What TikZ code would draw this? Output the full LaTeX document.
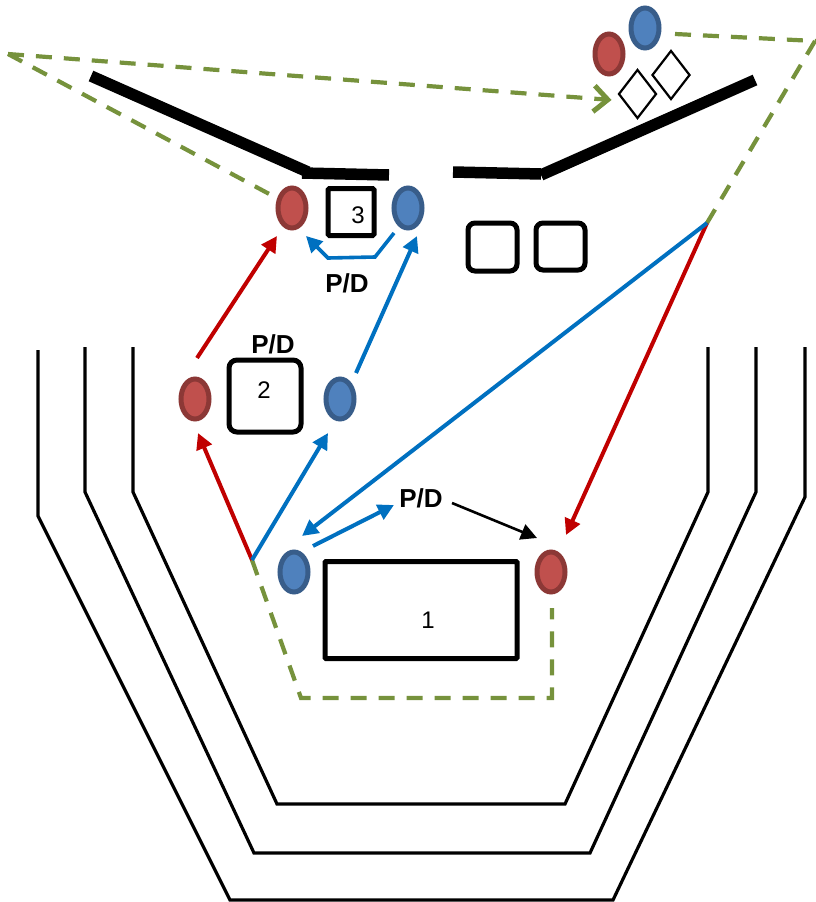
\documentclass[tikz,border=0pt]{standalone}
\usepackage{fontspec}
\setmainfont{Liberation Sans}
\usetikzlibrary{arrows.meta,shapes.geometric}
\definecolor{rl}{HTML}{C00000}
\definecolor{bl}{HTML}{0070C0}
\definecolor{gl}{HTML}{76923C}
\definecolor{redf}{HTML}{C0504D}
\definecolor{redd}{HTML}{8C3836}
\definecolor{bluef}{HTML}{4F81BD}
\definecolor{blued}{HTML}{385D8A}
\tikzset{
 redball/.style={ellipse,draw=redd,fill=redf,line width=5pt,minimum width=28pt,minimum height=40pt,inner sep=0pt},
 blueball/.style={ellipse,draw=blued,fill=bluef,line width=5pt,minimum width=28pt,minimum height=40pt,inner sep=0pt},
 boxs/.style={draw=black,line width=5pt,inner sep=0pt,rounded corners=#1},
 boxs/.default=2pt,
 gem/.style={diamond,draw=black,line width=2.2pt,minimum width=38pt,minimum height=49pt,inner sep=0pt,aspect=0.78},
 wall/.style={line width=3.2pt,draw=black,line join=miter},
 lid/.style={line width=11.5pt,draw=black},
 redarr/.style={draw=rl,line width=4pt,-{Triangle[length=16pt,width=16pt]}},
 bluearr/.style={draw=bl,line width=4pt,-{Triangle[length=16pt,width=16pt]}},
 blackarr/.style={draw=black,line width=2.6pt,-{Triangle[length=16pt,width=16pt]}},
 greendash/.style={draw=gl,line width=4.2pt,dash pattern=on 16pt off 12pt},
 pd/.style={font=\fontsize{26}{30}\selectfont\bfseries,inner sep=0pt},
 num/.style={font=\fontsize{24}{28}\selectfont,inner sep=0pt},
}
\begin{document}
\begin{tikzpicture}[x=1pt,y=-1pt]
\useasboundingbox (0,0) rectangle (815,902);
% funnel walls
\draw[wall] (38,350) -- (38,516) -- (230,900) -- (613,900) -- (805,497) -- (805,347);
\draw[wall] (85,347) -- (85,492) -- (254,853) -- (590,853) -- (756,492) -- (756,347);
\draw[wall] (133,347) -- (133,492) -- (277,804) -- (565,804) -- (708,492) -- (708,347);
% lid
\draw[lid] (91,76) -- (308,172);
\draw[lid] (302,173) -- (389,175);
\draw[lid] (453,172) -- (541,174);
\draw[lid] (541,175) -- (755,80);
% boxes
\node[boxs=1pt,minimum width=192pt,minimum height=97pt] (b1) at (421,610) {};
\node[boxs=8pt,minimum width=72pt,minimum height=72pt] (b2) at (265,396) {};
\node[boxs=1.5pt,minimum width=46pt,minimum height=47pt] (b3) at (351,212) {};
\node[boxs=7pt,minimum width=49pt,minimum height=48pt] (b4) at (492.5,247) {};
\node[boxs=7pt,minimum width=49pt,minimum height=47pt] (b5) at (560.5,246.5) {};
\node[num] (n1) at (428,620) {1};
\node[num] (n2) at (264,390) {2};
\node[num] (n3) at (358,215) {3};
% diamonds
\node[gem] (g1) at (637.5,94) {};
\node[gem] (g2) at (671,75) {};
% balls
\node[redball] (rt) at (609,54) {};
\node[blueball] (bt) at (645,28) {};
\node[redball] (r3) at (292,208) {};
\node[blueball] (b3b) at (408,208) {};
\node[redball] (r2) at (195,399) {};
\node[blueball] (b2b) at (340,399) {};
\node[blueball] (b1b) at (294,572) {};
\node[redball] (r1) at (551,572) {};
% labels
\node[pd] (pd3) at (347,283) {P/D};
\node[pd] (pd2) at (273,344) {P/D};
\node[pd] (pd1) at (421,498) {P/D};
% junction points
\coordinate (apexL) at (8,54);
\coordinate (apexR) at (815,41);
\coordinate (src) at (707,223);
\coordinate (low) at (252,560);
\coordinate (c1) at (301,698);
\coordinate (c2) at (552,698);
\coordinate (k1) at (375,257);
\coordinate (k2) at (328,258);
% dashed
\draw[greendash] ([shift={(30,6)}]bt.center) -- (apexR) -- (src);
\draw[greendash,-{Straight Barb[length=14pt,width=26pt,line width=5pt]}] (apexL) -- ([shift={(-26,6)}]g1.center);
\draw[greendash] (apexL) -- ([shift={(-19,-12)}]r3.center);
\draw[greendash] (low) -- (c1) -- (c2) -- ([shift={(1,36)}]r1.center);
% red
\draw[redarr] ([shift={(2,-41)}]r2.center) -- ([shift={(-15,28)}]r3.center);
\draw[redarr] (low) -- ([shift={(3,34)}]r2.center);
\draw[redarr] (src) -- ([shift={(15,-37)}]r1.center);
% blue
\draw[bluearr] ([shift={(16,-26)}]b2b.center) -- ([shift={(9,28)}]b3b.center);
\draw[bluearr] (low) -- ([shift={(-12,34)}]b2b.center);
\draw[bluearr] (src) -- ([shift={(8,-36)}]b1b.center);
\draw[bluearr] ([shift={(19,-26)}]b1b.center) -- ([shift={(-27,7)}]pd1.center);
\draw[draw=bl,line width=3.6pt,-{Triangle[length=16pt,width=16pt]}] ([shift={(-14,25)}]b3b.center) -- (k1) -- (k2) -- ([shift={(14,28)}]r3.center);
% black
\draw[blackarr] ([shift={(31,5)}]pd1.center) -- ([shift={(-14,-34)}]r1.center);
\end{tikzpicture}
\end{document}
